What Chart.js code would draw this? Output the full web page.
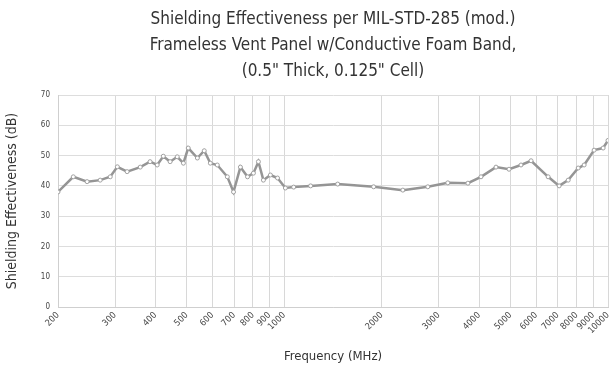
<!DOCTYPE html>
<html>
<head>
<meta charset="utf-8">
<script src="https://cdn.jsdelivr.net/npm/chart.js@4.4.1/dist/chart.umd.min.js"></script>
<style>
html,body{margin:0;padding:0;background:#fff;}
#wrap{width:613px;height:368px;position:relative;}
</style>
</head>
<body>
<div id="wrap"><canvas id="c" width="613" height="368"></canvas></div>
<script>
const titleLines = ["Shielding Effectiveness per MIL-STD-285 (mod.)", "Frameless Vent Panel w/Conductive Foam Band,", "(0.5\" Thick, 0.125\" Cell)"];
const xTitle = "Frequency (MHz)";
const yTitle = "Shielding Effectiveness (dB)";
const xTickValues = [200,300,400,500,600,700,800,900,1000,2000,3000,4000,5000,6000,7000,8000,9000,10000];
const yTicks = [0,10,20,30,40,50,60,70];
const frequency = [200,223,246,270,290,305,327,359,385,405,423,444,467,488,505,539,566,591,621,667,697,732,770,803,832,862,906,953,1008,1069,1206,1462,1888,2324,2776,3200,3692,4052,4508,4946,5386,5786,6532,7064,7534,8090,8440,9060,9660,10000];
const effectiveness = [38.0,43.0,41.4,41.9,43.0,46.3,44.7,46.2,48.0,46.9,49.8,48.0,49.6,47.5,52.5,49.2,51.6,47.5,46.9,43.0,38.0,46.2,43.0,44.2,48.0,41.9,43.6,42.6,39.3,39.6,40.0,40.6,39.7,38.6,39.7,41.0,40.9,43.0,46.2,45.5,46.9,48.3,43.0,40.0,41.9,45.9,46.9,51.8,52.5,55.0];

const FONT = "'Liberation Sans Narrow', 'DejaVu Sans Condensed', 'Liberation Sans', sans-serif";

new Chart(document.getElementById('c'), {
  type: 'line',
  data: {
    datasets: [{
      data: frequency.map((f, i) => ({x: f, y: effectiveness[i]})),
      borderColor: '#959595',
      borderWidth: 2.5,
      pointRadius: 2,
      pointBackgroundColor: '#ffffff',
      pointBorderColor: '#a0a0a0',
      pointBorderWidth: 1,
      tension: 0,
      fill: false
    }]
  },
  options: {
    responsive: false,
    animation: false,
    layout: {padding: {left: 0, right: 5, top: 0, bottom: 0}},
    plugins: {
      legend: {display: false},
      tooltip: {enabled: false},
      title: {
        display: true,
        text: titleLines,
        fullSize: false,
        color: '#333',
        font: {family: FONT, size: 17, weight: 'normal', lineHeight: 1.55},
        padding: {top: 6, bottom: 10}
      }
    },
    scales: {
      x: {
        type: 'logarithmic',
        min: 200,
        max: 10000,
        afterBuildTicks: (s) => { s.ticks = xTickValues.map(v => ({value: v})); },
        afterFit: (s) => { s.height = 61; s.paddingRight = 0; s.paddingLeft = 0; },
        ticks: {
          autoSkip: false,
          minRotation: 45,
          maxRotation: 45,
          color: '#444',
          font: {family: FONT, size: 9},
          padding: 3,
          callback: (v) => String(v)
        },
        grid: {color: '#d8d8d8', drawTicks: false},
        border: {color: '#cfcfcf'},
        title: {display: true, text: xTitle, color: '#333', font: {family: FONT, size: 13}, padding: {top: 2}}
      },
      y: {
        min: 0,
        max: 70,
        afterBuildTicks: (s) => { s.ticks = yTicks.map(v => ({value: v})); },
        afterFit: (s) => { s.width = 58; },
        ticks: {color: '#444', font: {family: FONT, size: 8}, padding: 8},
        grid: {color: '#dddddd', drawTicks: false},
        border: {color: '#cfcfcf'},
        title: {display: true, text: yTitle, color: '#333', font: {family: FONT, size: 14}, padding: {bottom: 2}}
      }
    }
  }
});
</script>
</body>
</html>
